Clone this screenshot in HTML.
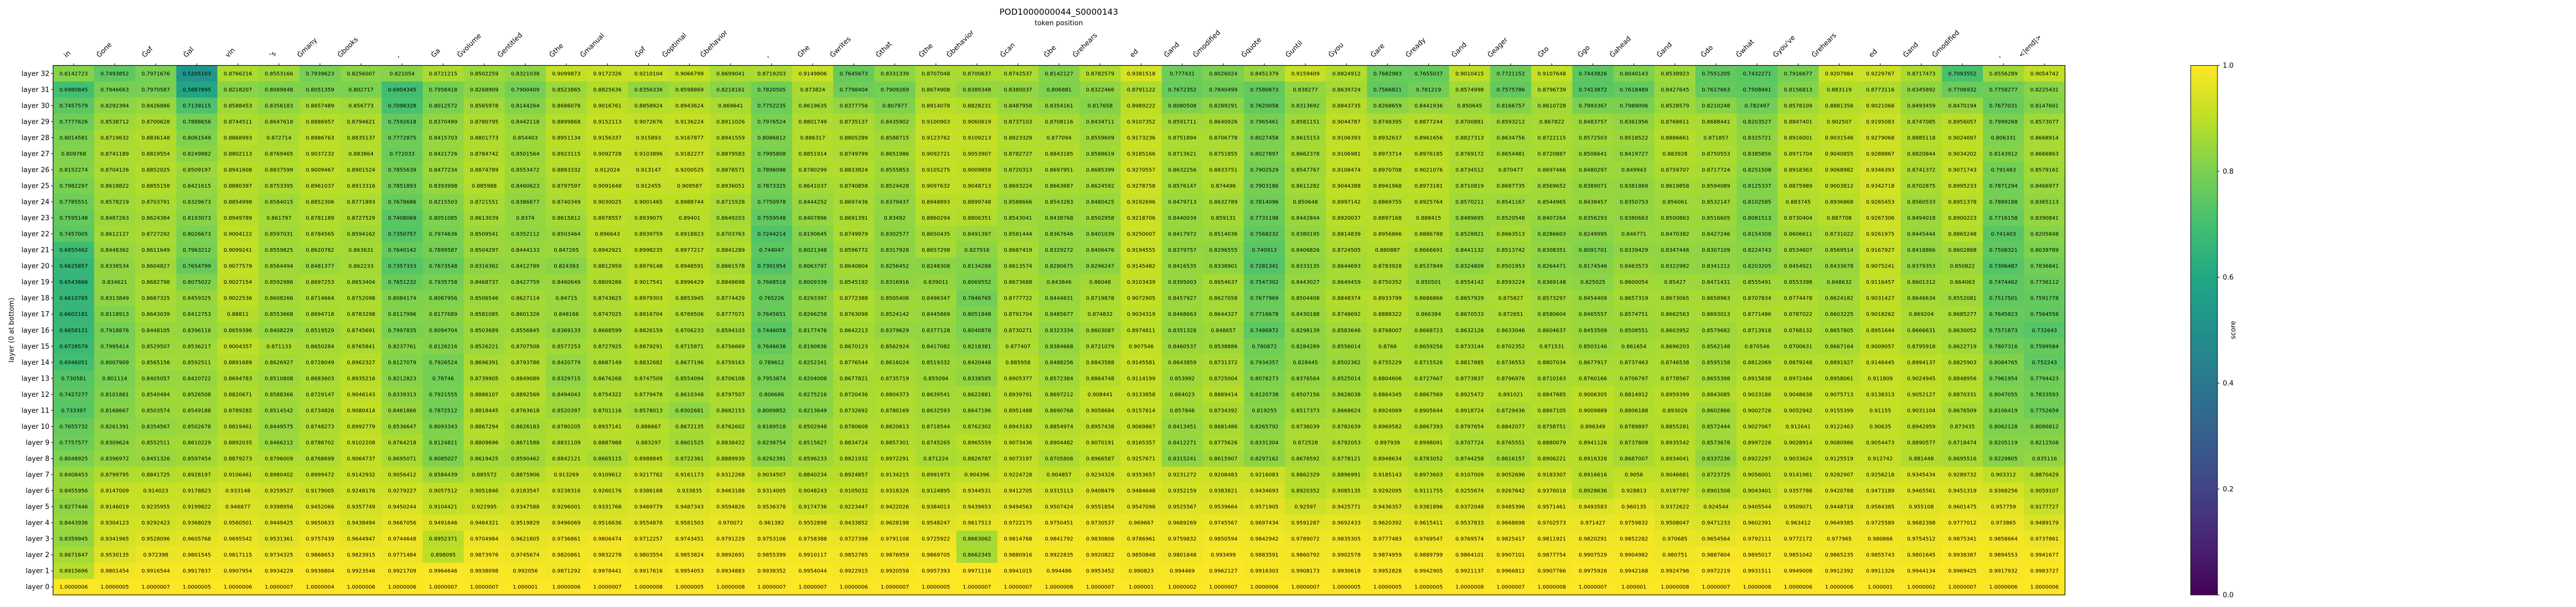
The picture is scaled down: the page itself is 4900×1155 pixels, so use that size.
<!DOCTYPE html>
<html>
<head>
<meta charset="utf-8">
<style>
html,body{margin:0;padding:0;background:#fff;}
svg{display:block;font-family:"DejaVu Sans","Liberation Sans",sans-serif;}
</style>
</head>
<body>
<svg id="chart" width="4900" height="1155" viewBox="0 0 4900 1155" xmlns="http://www.w3.org/2000/svg">
  <text x="2014" y="28" font-size="16" text-anchor="middle">POD1000000044_S0000143</text>
  <text x="2014" y="48" font-size="13" text-anchor="middle">token position</text>
  <text x="0" y="0" font-size="13" text-anchor="middle" transform="translate(26,628) rotate(-90)">layer (0 at bottom)</text>
  <g id="cells"></g>
  <g id="xticks"></g>
  <g id="yticks"></g>
  <rect x="101" y="124.5" width="3827" height="1007.5" fill="none" stroke="#000" stroke-width="1.2"/>
  <defs>
    <linearGradient id="viridisGrad" x1="0" y1="1" x2="0" y2="0">
      <stop offset="0" stop-color="#440154"/><stop offset="0.1" stop-color="#482475"/>
      <stop offset="0.2" stop-color="#414487"/><stop offset="0.3" stop-color="#355f8d"/>
      <stop offset="0.4" stop-color="#2a788e"/><stop offset="0.5" stop-color="#21918c"/>
      <stop offset="0.6" stop-color="#22a884"/><stop offset="0.7" stop-color="#44bf70"/>
      <stop offset="0.8" stop-color="#7ad151"/><stop offset="0.9" stop-color="#bddf26"/>
      <stop offset="1" stop-color="#fde725"/>
    </linearGradient>
  </defs>
  <rect x="4167" y="124.5" width="51" height="1007.5" fill="url(#viridisGrad)" stroke="#000" stroke-width="1"/>
  <g id="cbticks"></g>
  <text x="0" y="0" font-size="13" text-anchor="middle" transform="translate(4252,628) rotate(-90)">score</text>
</svg>
<script>
const tokens = ["in","Ġone","Ġof","Ġal","vin","'s","Ġmany","Ġbooks",",","Ġa","Ġvolume","Ġentitled","Ġthe","Ġmanual","Ġof","Ġoptimal","Ġbehavior",",","Ġhe","Ġwrites","Ġthat","Ġthe","Ġbehavior","Ġcan","Ġbe","Ġrehears","ed","Ġand","Ġmodified","Ġquote","Ġuntil","Ġyou","Ġare","Ġready","Ġand","Ġeager","Ġto","Ġgo","Ġahead","Ġand","Ġdo","Ġwhat","Ġyou've","Ġrehears","ed","Ġand","Ġmodified",",","<|end|>"];
const layerLabels = ["layer 32","layer 31","layer 30","layer 29","layer 28","layer 27","layer 26","layer 25","layer 24","layer 23","layer 22","layer 21","layer 20","layer 19","layer 18","layer 17","layer 16","layer 15","layer 14","layer 13","layer 12","layer 11","layer 10","layer 9","layer 8","layer 7","layer 6","layer 5","layer 4","layer 3","layer 2","layer 1","layer 0"];
const colorbarTicks = [0.0,0.2,0.4,0.6,0.8,1.0];

const layer32 = [0.8142723,0.7493852,0.7971676,0.5205103,0.8766216,0.8553166,0.7939623,0.8256007,0.821054,0.8721215,0.8502259,0.8321038,0.9099873,0.9172326,0.9210104,0.9066799,0.8699041,0.8719203,0.9149806,0.7645673,0.8331339,0.8707048,0.8700637,0.8742537,0.8142127,0.8782579,0.9381518,0.777431,0.8026024,0.8451379,0.9159409,0.8824912,0.7682983,0.7655037,0.9010415,0.7721152,0.9107648,0.7443826,0.8040143,0.8538923,0.7551205,0.7432271,0.7916677,0.9207984,0.9229767,0.8717473,0.7093552,0.8556289,0.9054742];
const layer31 = [0.6980845,0.7946663,0.7970587,0.5887895,0.8218207,0.8089848,0.8051359,0.802717,0.6904345,0.7958418,0.8268909,0.7900409,0.8523865,0.8825636,0.8356336,0.8598869,0.8218161,0.7820505,0.873824,0.7798404,0.7909269,0.8674908,0.8389348,0.8380037,0.806881,0.8322466,0.8791122,0.7672352,0.7840499,0.7580673,0.838277,0.8639724,0.7566821,0.781219,0.8574998,0.7575786,0.8796739,0.7413872,0.7618489,0.8427645,0.7617663,0.7508491,0.8156813,0.883119,0.8773116,0.8345892,0.7706932,0.7758277,0.8225431];
const layer30 = [0.7457579,0.8292394,0.8426886,0.7139115,0.8588453,0.8356183,0.8657489,0.856773,0.7098328,0.8012572,0.8565978,0.8144264,0.8686078,0.9016761,0.8858924,0.8943624,0.869641,0.7752235,0.8619635,0.8377756,0.807977,0.8914078,0.8828231,0.8487958,0.8354161,0.817658,0.8989222,0.8080508,0.8289291,0.7620058,0.8313692,0.8843735,0.8268659,0.8441936,0.850645,0.8166757,0.8610728,0.7993367,0.7989006,0.8528579,0.8210248,0.782497,0.8578109,0.8881356,0.9021066,0.8493459,0.8470194,0.7677031,0.8147601];
const layer29 = [0.7777626,0.8538712,0.8700628,0.7888656,0.8744511,0.8647618,0.8886957,0.8794621,0.7592618,0.8370499,0.8780795,0.8442118,0.8899868,0.9152113,0.9072676,0.9136224,0.8911026,0.7976524,0.8801749,0.8735137,0.8435902,0.9100903,0.9060619,0.8737103,0.8708116,0.8434711,0.9107352,0.8591711,0.8640926,0.7965461,0.8581151,0.9044787,0.8748395,0.8877244,0.8700881,0.8593212,0.867822,0.8483757,0.8361956,0.8768611,0.8688441,0.8203527,0.8847401,0.902507,0.9195083,0.8747085,0.8956057,0.7999268,0.8573077];
const layer28 = [0.8014581,0.8719632,0.8836148,0.8061549,0.8868993,0.872714,0.8986763,0.8835137,0.7772875,0.8415703,0.8801773,0.854403,0.8951134,0.9156337,0.915893,0.9167877,0.8941559,0.8086812,0.886317,0.8805289,0.8588715,0.9123762,0.9109213,0.8823329,0.877094,0.8559609,0.9173236,0.8751894,0.8706778,0.8027458,0.8615153,0.9106393,0.8932637,0.8961656,0.8827313,0.8634756,0.8722115,0.8572503,0.8518522,0.8886661,0.871857,0.8325721,0.8916001,0.9031546,0.9279068,0.8885118,0.9024697,0.806331,0.8668914];
const layer27 = [0.809768,0.8741189,0.8819554,0.8249882,0.8802113,0.8769465,0.9037232,0.883864,0.772033,0.8421726,0.8784742,0.8501564,0.8923115,0.9092728,0.9103896,0.9182277,0.8879583,0.7995808,0.8851914,0.8749799,0.8651986,0.9092721,0.9053907,0.8782727,0.8843185,0.8588619,0.9185166,0.8713621,0.8751855,0.8027897,0.8662378,0.9106981,0.8973714,0.8976185,0.8769172,0.8654481,0.8720887,0.8506641,0.8419727,0.883928,0.8750553,0.8385856,0.8971704,0.9040855,0.9288867,0.8820844,0.9034202,0.8143912,0.8666863];
const layer26 = [0.8152274,0.8704126,0.8852025,0.8509197,0.8941608,0.8837599,0.9009467,0.8901524,0.7855639,0.8477234,0.8874789,0.8553472,0.8883332,0.912024,0.913147,0.9200525,0.8878571,0.7896098,0.8780299,0.8833824,0.8555853,0.9105275,0.9009859,0.8720313,0.8697951,0.8685399,0.9270557,0.8632256,0.8833751,0.7902529,0.8547767,0.9108474,0.8970708,0.9021076,0.8734512,0.870477,0.8697466,0.8480297,0.849943,0.8759707,0.8717724,0.8251508,0.8918363,0.9068982,0.9346393,0.8741372,0.9071743,0.791483,0.8579161];
const layer25 = [0.7982297,0.8618822,0.8855158,0.8421615,0.8880397,0.8753395,0.8961037,0.8913316,0.7851893,0.8393998,0.885988,0.8460623,0.8797597,0.9091648,0.912455,0.909587,0.8936051,0.7873325,0.8641037,0.8740858,0.8524428,0.9097632,0.9048713,0.8693224,0.8663687,0.8624592,0.9278758,0.8576147,0.874496,0.7903186,0.8611282,0.9044388,0.8941968,0.8973181,0.8710819,0.8687735,0.8569652,0.8389071,0.8381869,0.8619858,0.8594089,0.8125337,0.8875989,0.9003812,0.9342718,0.8702875,0.8995233,0.7871294,0.8466977];
const layer24 = [0.7785551,0.8578219,0.8703791,0.8329673,0.8854998,0.8584015,0.8852306,0.8771893,0.7678686,0.8215503,0.8721551,0.8386877,0.8740349,0.9030025,0.9001465,0.8988744,0.8715528,0.7750978,0.8444252,0.8697436,0.8379437,0.8948893,0.8899748,0.8588666,0.8543283,0.8480425,0.9192696,0.8479713,0.8632789,0.7814096,0.850648,0.8997142,0.8869755,0.8925764,0.8570211,0.8541167,0.8544965,0.8438457,0.8350753,0.856061,0.8532147,0.8102585,0.883745,0.8936868,0.9265453,0.8560533,0.8951378,0.7889188,0.8365113];
const layer23 = [0.7595148,0.8487263,0.8624384,0.8193073,0.8949789,0.861797,0.8781189,0.8727529,0.7408069,0.8051085,0.8613039,0.8374,0.8615812,0.8978557,0.8939075,0.89401,0.8649203,0.7559548,0.8407896,0.8691391,0.83492,0.8860294,0.8806351,0.8543041,0.8438768,0.8502958,0.9218706,0.8440034,0.859131,0.7731198,0.8442844,0.8920037,0.8897168,0.888415,0.8489695,0.8520548,0.8407264,0.8356293,0.8380663,0.8500863,0.8516605,0.8081513,0.8730404,0.887708,0.9267306,0.8494018,0.8900223,0.7716158,0.8390841];
const layer22 = [0.7457005,0.8612127,0.8727292,0.8026673,0.9004122,0.8597031,0.8784565,0.8594162,0.7350757,0.7974636,0.8509541,0.8352112,0.8503464,0.896643,0.8939759,0.8918823,0.8703763,0.7244214,0.8190645,0.8749979,0.8302577,0.8650435,0.8491397,0.8581444,0.8367646,0.8401039,0.9250007,0.8417972,0.8514036,0.7568232,0.8380195,0.8814839,0.8956866,0.8886788,0.8528821,0.8663513,0.8286603,0.8249995,0.846771,0.8470382,0.8427246,0.8154308,0.8606611,0.8731022,0.9261975,0.8445444,0.8865248,0.741403,0.8205848];
const layer21 = [0.6855462,0.8448362,0.8611649,0.7963212,0.9099241,0.8559825,0.8620782,0.863631,0.7640142,0.7899587,0.8504297,0.8444133,0.847265,0.8942921,0.8998235,0.8977217,0.8841289,0.744047,0.8021348,0.8596772,0.8317928,0.8657298,0.827916,0.8687419,0.8329272,0.8406476,0.9194555,0.8379757,0.8296555,0.740913,0.8406826,0.8724505,0.880887,0.8666691,0.8441132,0.8513742,0.8308351,0.8091701,0.8339429,0.8347446,0.8307109,0.8224743,0.8534607,0.8569514,0.9167927,0.8418866,0.8602868,0.7508321,0.8039789];
const layer20 = [0.6625857,0.8338534,0.8604827,0.7654799,0.9077579,0.8564494,0.8481377,0.862233,0.7357333,0.7673548,0.8316362,0.8412789,0.824383,0.8812959,0.8979148,0.8948591,0.8661578,0.7301954,0.8063797,0.8640804,0.8256452,0.8248308,0.8134288,0.8613574,0.8280675,0.8296247,0.9145482,0.8416535,0.8338901,0.7281341,0.8333135,0.8644693,0.8783928,0.8537849,0.8324809,0.8501953,0.8264471,0.8174546,0.8463573,0.8322982,0.8341212,0.8203205,0.8454921,0.8433678,0.9075241,0.8379353,0.850822,0.7306487,0.7836841];
const layer19 = [0.6543666,0.834621,0.8682798,0.8075022,0.9027154,0.8592986,0.8697253,0.8653404,0.7651232,0.7935758,0.8468737,0.8427759,0.8460649,0.8809286,0.9017541,0.8996429,0.8848698,0.7668518,0.8009339,0.8545192,0.8316916,0.839011,0.8069552,0.8673688,0.843846,0.86048,0.9103439,0.8395003,0.8654637,0.7547302,0.8443027,0.8649459,0.8750352,0.850501,0.8554142,0.8593224,0.8369148,0.825025,0.8600054,0.85427,0.8471431,0.8555491,0.8553398,0.848632,0.9116457,0.8601312,0.864063,0.7474462,0.7736112];
const layer18 = [0.6610765,0.8313849,0.8667325,0.8459325,0.9022536,0.8608266,0.8714664,0.8752098,0.8084174,0.8087956,0.8506546,0.8627114,0.84715,0.8743625,0.8979303,0.8853945,0.8774429,0.765226,0.8293397,0.8772388,0.8505406,0.8496347,0.7846765,0.8777722,0.8444831,0.8719878,0.9072905,0.8457927,0.8627058,0.7677969,0.8504408,0.8848374,0.8933799,0.8686866,0.8657929,0.875827,0.8573297,0.8454409,0.8657319,0.8673065,0.8658963,0.8707834,0.8774478,0.8624182,0.9031427,0.8646634,0.8552081,0.7517501,0.7591778];
const layer17 = [0.6602181,0.8118913,0.8643039,0.8412753,0.88811,0.8553668,0.8694718,0.8783298,0.8117996,0.8177689,0.8581085,0.8601326,0.848166,0.8747025,0.8916704,0.8769506,0.8777071,0.7645651,0.8266258,0.8763098,0.8524142,0.8445869,0.8051848,0.8791704,0.8485677,0.874832,0.9034319,0.8468663,0.8644327,0.7716678,0.8430188,0.8748692,0.8888322,0.866384,0.8670533,0.872651,0.8580604,0.8465557,0.8574751,0.8662563,0.8693013,0.8771486,0.8787022,0.8603225,0.9018262,0.869204,0.8685277,0.7645823,0.7564558];
const layer16 = [0.6658121,0.7918876,0.8448105,0.8396116,0.8659396,0.8408229,0.8519529,0.8745691,0.7997835,0.8094704,0.8503689,0.8556845,0.8369133,0.8668599,0.8826159,0.8706233,0.8594103,0.7446058,0.8177476,0.8642213,0.8379629,0.8377128,0.8040878,0.8730271,0.8323334,0.8603087,0.8974811,0.8351328,0.848657,0.7486972,0.8298139,0.8583646,0.8768007,0.8668723,0.8632126,0.8633046,0.8604637,0.8453509,0.8508551,0.8603952,0.8579682,0.8713918,0.8768132,0.8657805,0.8951644,0.8666631,0.8630052,0.7571873,0.732643];
const layer15 = [0.6728579,0.7995414,0.8529507,0.8536217,0.9004357,0.871133,0.8650284,0.8765841,0.8237761,0.8126216,0.8526221,0.8707508,0.8577253,0.8727925,0.8879291,0.8715871,0.8756669,0.7646638,0.8190836,0.8670123,0.8562924,0.8417082,0.8218381,0.877407,0.8384668,0.8721079,0.907546,0.8460537,0.8538886,0.780872,0.8284289,0.8556014,0.8766,0.8659256,0.8733144,0.8702352,0.871531,0.8503146,0.861654,0.8696203,0.8562148,0.870546,0.8700631,0.8667164,0.9009057,0.8795918,0.8622719,0.7807316,0.7599584];
const layer14 = [0.6946051,0.8007909,0.8565156,0.8592511,0.8891689,0.8626927,0.8728049,0.8962327,0.8127079,0.7926524,0.8696391,0.8793786,0.8420779,0.8687149,0.8832682,0.8677196,0.8759163,0.789612,0.8252341,0.8776544,0.8616024,0.8519332,0.8420448,0.885958,0.8488256,0.8843588,0.9145581,0.8643859,0.8731372,0.7934357,0.828445,0.8502362,0.8755229,0.8715526,0.8817885,0.8736553,0.8807034,0.8677917,0.8737463,0.8746538,0.8595158,0.8812069,0.8879248,0.8891927,0.9146445,0.8994137,0.8825903,0.8084765,0.752243];
const layer13 = [0.730581,0.801114,0.8405057,0.8420722,0.8694783,0.8510808,0.8683603,0.8935216,0.8212823,0.78746,0.8739905,0.8849089,0.8329715,0.8676268,0.8747509,0.8554094,0.8706108,0.7953874,0.8204008,0.8677821,0.8735719,0.855094,0.8338585,0.8905377,0.8572384,0.8864748,0.9114199,0.853992,0.8725004,0.8078273,0.8376564,0.8525014,0.8804606,0.8727667,0.8773837,0.8796976,0.8710163,0.8760166,0.8706797,0.8778567,0.8655398,0.8915838,0.8972484,0.8958061,0.911809,0.9024945,0.8848956,0.7961954,0.7794423];
const layer12 = [0.7427277,0.8101861,0.8540484,0.8526508,0.8820671,0.8588366,0.8729147,0.9046143,0.8339313,0.7921555,0.8886107,0.8892569,0.8494043,0.8754322,0.8779478,0.8610348,0.8797507,0.806686,0.8275216,0.8720436,0.8804373,0.8639541,0.8622881,0.8939791,0.8697212,0.908441,0.9133858,0.864023,0.8889414,0.8120738,0.8507156,0.8628038,0.8864345,0.8867569,0.8925472,0.891021,0.8847685,0.9006305,0.8814912,0.8959399,0.8843085,0.9033186,0.9048638,0.9075713,0.9138313,0.9052127,0.8870331,0.8047055,0.7833593];
const layer11 = [0.733397,0.8168667,0.8503574,0.8549188,0.8789282,0.8514542,0.8734826,0.9080414,0.8461866,0.7872512,0.8818445,0.8763618,0.8520397,0.8701116,0.8578013,0.8302681,0.8682153,0.8009852,0.8213649,0.8732692,0.8780169,0.8632593,0.8647186,0.8951488,0.8690768,0.9058684,0.9157614,0.857846,0.8734392,0.819255,0.8517373,0.8668624,0.8924069,0.8905644,0.8918724,0.8729436,0.8867105,0.9009889,0.8806188,0.893026,0.8602866,0.9002726,0.9052942,0.9155399,0.91155,0.9031104,0.8676509,0.8106419,0.7752659];
const layer10 = [0.7655732,0.8261391,0.8354567,0.8502678,0.8819461,0.8449575,0.8748273,0.8992779,0.8536647,0.8093343,0.8867294,0.8626183,0.8780205,0.8937141,0.886667,0.8672135,0.8762602,0.8189518,0.8502948,0.8780608,0.8820613,0.8718544,0.8762302,0.8943183,0.8854974,0.8957438,0.9069867,0.8413451,0.8681486,0.8265792,0.8736039,0.8782639,0.8969582,0.8867393,0.8797654,0.8842077,0.8758751,0.896349,0.8789897,0.8855281,0.8572444,0.9027067,0.912641,0.9122463,0.90635,0.8942959,0.873435,0.8062128,0.8086812];
const layer9 = [0.7757577,0.8309624,0.8552511,0.8610229,0.8892035,0.8466212,0.8788702,0.9102208,0.8764218,0.8124821,0.8809696,0.8671588,0.8831109,0.8887988,0.883297,0.8601525,0.8838422,0.8238754,0.8515627,0.8834724,0.8857301,0.8745265,0.8965559,0.9073436,0.8904482,0.9070191,0.9165357,0.8412271,0.8775626,0.8331304,0.872528,0.8792053,0.897939,0.8998091,0.8707724,0.8765551,0.8880079,0.8941126,0.8737809,0.8935542,0.8573678,0.8997226,0.9028914,0.9080986,0.9054473,0.8890577,0.8718474,0.8205119,0.8212508];
const layer8 = [0.8048925,0.8396972,0.8451326,0.8597454,0.8879273,0.8796009,0.8768699,0.9064737,0.8695071,0.8085027,0.8619425,0.8590462,0.8842121,0.8665115,0.8988845,0.8722361,0.8889939,0.8292391,0.8596233,0.8821932,0.8972291,0.871224,0.8826787,0.9073197,0.8705806,0.8966587,0.9257671,0.8315241,0.8615907,0.8297162,0.8676592,0.8778121,0.8948634,0.8783052,0.8744258,0.8616157,0.8906221,0.8916328,0.8687007,0.8934041,0.8337236,0.8922297,0.9033624,0.9125519,0.912742,0.881448,0.8695516,0.8229805,0.835116];
const layer7 = [0.8408453,0.8799795,0.8841725,0.8928197,0.9106461,0.8980402,0.8999472,0.9142932,0.9056412,0.8584439,0.885572,0.8875906,0.913269,0.9109612,0.9217762,0.9161173,0.9312268,0.9034507,0.8840234,0.8924857,0.9134215,0.8991973,0.904396,0.9224728,0.904857,0.9234328,0.9353657,0.9231272,0.9208483,0.9216083,0.8862329,0.8896991,0.9185143,0.8973603,0.9107009,0.9052696,0.9183307,0.8916616,0.9056,0.9046681,0.8723725,0.9056001,0.9141981,0.9282907,0.9256218,0.9345434,0.9289732,0.903312,0.8870429];
const layer6 = [0.8455956,0.9147009,0.914023,0.9178823,0.933148,0.9259527,0.9179005,0.9248176,0.9279227,0.9057512,0.9051846,0.9183547,0.9238316,0.9260176,0.9386168,0.933835,0.9463188,0.9314005,0.9048243,0.9105032,0.9318326,0.9124895,0.9344531,0.9412705,0.9315113,0.9408479,0.9484648,0.9352159,0.9383821,0.9434693,0.8920352,0.9085135,0.9292095,0.9111755,0.9255674,0.9267642,0.9376018,0.8928636,0.928813,0.9197797,0.8901508,0.9043401,0.9357786,0.9420788,0.9473189,0.9465561,0.9451319,0.9368256,0.9059107];
const layer5 = [0.8277446,0.9146019,0.9235955,0.9199822,0.946877,0.9398956,0.9452066,0.9357749,0.9450244,0.9104421,0.922995,0.9347588,0.9296001,0.9331766,0.9469779,0.9487343,0.9594826,0.9536378,0.9174736,0.9223447,0.9422026,0.9384013,0.9439653,0.9494563,0.9507424,0.9551854,0.9547098,0.9525567,0.9539664,0.9571905,0.92597,0.9425771,0.9436357,0.9381896,0.9372048,0.9485396,0.9571461,0.9493583,0.960135,0.9372622,0.924544,0.9405544,0.9509071,0.9448718,0.9584385,0.955108,0.9601475,0.957759,0.9177727];
const layer4 = [0.8443936,0.9304123,0.9292423,0.9368029,0.9560501,0.9449425,0.9650633,0.9438494,0.9667056,0.9491646,0.9464321,0.9519829,0.9496069,0.9516636,0.9554878,0.9581503,0.970072,0.961382,0.9552898,0.9433852,0.9628198,0.9548247,0.9617513,0.9722175,0.9750451,0.9730537,0.969667,0.9689269,0.9745567,0.9697434,0.9591287,0.9692433,0.9620392,0.9615411,0.9537833,0.9668698,0.9702573,0.971427,0.9759832,0.9508047,0.9471233,0.9602391,0.963412,0.9649385,0.9725589,0.9682398,0.9777012,0.973865,0.9489179];
const layer3 = [0.8359945,0.9341965,0.9528096,0.9605768,0.9695542,0.9531361,0.9757439,0.9644947,0.9744648,0.8952371,0.9704984,0.9621805,0.9736861,0.9806474,0.9712257,0.9743451,0.9791229,0.9753106,0.9758388,0.9727398,0.9791108,0.9725922,0.8663062,0.9814768,0.9841792,0.9830806,0.9786961,0.9759832,0.9850594,0.9842942,0.9789072,0.9835305,0.9777483,0.9769547,0.9769574,0.9825417,0.9811921,0.9820291,0.9852282,0.970685,0.9654564,0.9792111,0.9772172,0.977965,0.980866,0.9754512,0.9875341,0.9858664,0.9737861];
const layer2 = [0.8671647,0.9530135,0.972398,0.9801545,0.9817115,0.9734325,0.9868653,0.9823915,0.9771484,0.898095,0.9873976,0.9745674,0.9820861,0.9832278,0.9803554,0.9853824,0.9892691,0.9855399,0.9910117,0.9852765,0.9876959,0.9869705,0.8662345,0.9880916,0.9922835,0.9920822,0.9850848,0.9801848,0.993499,0.9883591,0.9860792,0.9902578,0.9874959,0.9889799,0.9864101,0.9907101,0.9877754,0.9907529,0.9904982,0.980751,0.9887604,0.9895017,0.9851042,0.9865235,0.9855743,0.9801645,0.9938387,0.9894553,0.9941677];
const layer1 = [0.8915696,0.9801454,0.9916544,0.9917837,0.9907954,0.9934229,0.9936804,0.9923546,0.9921709,0.9964646,0.9938098,0.992056,0.9871292,0.9978441,0.9917616,0.9954053,0.9934883,0.9938352,0.9954044,0.9922915,0.9920558,0.9957393,0.9971116,0.9941015,0.994486,0.9953452,0.990823,0.994469,0.9962127,0.9916303,0.9908173,0.9930618,0.9952828,0.9942905,0.9921137,0.9966812,0.9907766,0.9975926,0.9942168,0.9924796,0.9972219,0.9931511,0.9949008,0.9912392,0.9911326,0.9944134,0.9969425,0.9917932,0.9983727];
const layer0 = [1.0000006,1.0000005,1.0000007,1.0000005,1.0000006,1.0000007,1.0000004,1.0000006,1.0000006,1.0000007,1.0000007,1.000001,1.0000006,1.0000007,1.0000008,1.0000005,1.0000008,1.0000007,1.0000007,1.0000006,1.0000007,1.0000005,1.0000007,1.0000007,1.0000006,1.0000007,1.000001,1.0000002,1.0000007,1.0000006,1.0000007,1.0000005,1.0000005,1.0000005,1.0000008,1.0000007,1.0000008,1.0000007,1.000001,1.0000008,1.0000007,1.0000008,1.0000006,1.0000006,1.000001,1.0000002,1.0000007,1.0000006,1.0000006];

const rows = [layer32,layer31,layer30,layer29,layer28,layer27,layer26,layer25,layer24,layer23,layer22,layer21,layer20,layer19,layer18,layer17,layer16,layer15,layer14,layer13,layer12,layer11,layer10,layer9,layer8,layer7,layer6,layer5,layer4,layer3,layer2,layer1,layer0];

const NS = "http://www.w3.org/2000/svg";
const plotLeft = 101, plotRight = 3928, plotTop = 124.5, plotBottom = 1132;
const cw = (plotRight - plotLeft) / tokens.length;
const rh = (plotBottom - plotTop) / layerLabels.length;
function xScale(i){ return plotLeft + i * cw; }
function yScale(j){ return plotTop + j * rh; }
const cbTop = 124.5, cbBottom = 1132;
function cbScale(v){ return cbBottom - v * (cbBottom - cbTop); }

const vStops = [[68,1,84],[72,36,117],[65,68,135],[53,95,141],[42,120,142],[33,145,140],[34,168,132],[68,191,112],[122,209,81],[189,223,38],[253,231,37]];
function viridis(v){
  v = Math.max(0, Math.min(1, v));
  const p = v * 10, i = Math.min(9, Math.floor(p)), t = p - i;
  const a = vStops[i], b = vStops[i+1];
  return "rgb(" + [0,1,2].map(k => Math.round(a[k] + (b[k]-a[k])*t)).join(",") + ")";
}
function mk(tag, attrs){
  const e = document.createElementNS(NS, tag);
  for (const k in attrs) e.setAttribute(k, attrs[k]);
  return e;
}

const cellsG = document.getElementById("cells");
rows.forEach((row, j) => {
  row.forEach((v, i) => {
    const r = mk("rect", {x: xScale(i), y: yScale(j), width: cw + 0.5, height: rh + 0.5, fill: viridis(v)});
    
    
    cellsG.appendChild(r);
    const t = mk("text", {x: xScale(i) + cw/2, y: yScale(j) + rh/2 + 3.5, "font-size": 10, "text-anchor": "middle", fill: "#000"});
    t.textContent = String(v);
    
    
    cellsG.appendChild(t);
  });
});

const xG = document.getElementById("xticks");
tokens.forEach((tok, i) => {
  const cx = xScale(i) + cw/2;
  const tk = mk("line", {x1: cx, x2: cx, y1: plotTop - 4, y2: plotTop, stroke: "#000", "stroke-width": 1});
  
  
  xG.appendChild(tk);
  const t = mk("text", {x: 0, y: 0, "font-size": 13, fill: "#000"});
  t.textContent = tok;
  
  
  xG.appendChild(t);
  const L = t.getComputedTextLength();
  const sx = cx - L * 0.7071 - 5, sy = 110;
  t.setAttribute("x", sx); t.setAttribute("y", sy);
  t.setAttribute("transform", "rotate(-45," + sx + "," + sy + ")");
});

const yG = document.getElementById("yticks");
layerLabels.forEach((lab, j) => {
  const cy = yScale(j) + rh/2;
  const tk = mk("line", {x1: plotLeft - 4, x2: plotLeft, y1: cy, y2: cy, stroke: "#000", "stroke-width": 1});
  
  
  yG.appendChild(tk);
  const t = mk("text", {x: plotLeft - 7, y: cy + 4.5, "font-size": 13, "text-anchor": "end", fill: "#000"});
  t.textContent = lab;
  
  
  yG.appendChild(t);
});

const cbG = document.getElementById("cbticks");
colorbarTicks.forEach(v => {
  const y = cbScale(v);
  const tk = mk("line", {x1: 4218, x2: 4222, y1: y, y2: y, stroke: "#000", "stroke-width": 1});
  
  
  cbG.appendChild(tk);
  const t = mk("text", {x: 4228, y: y + 4.5, "font-size": 13, fill: "#000"});
  t.textContent = v.toFixed(1);
  
  
  cbG.appendChild(t);
});
</script>
</body>
</html>
